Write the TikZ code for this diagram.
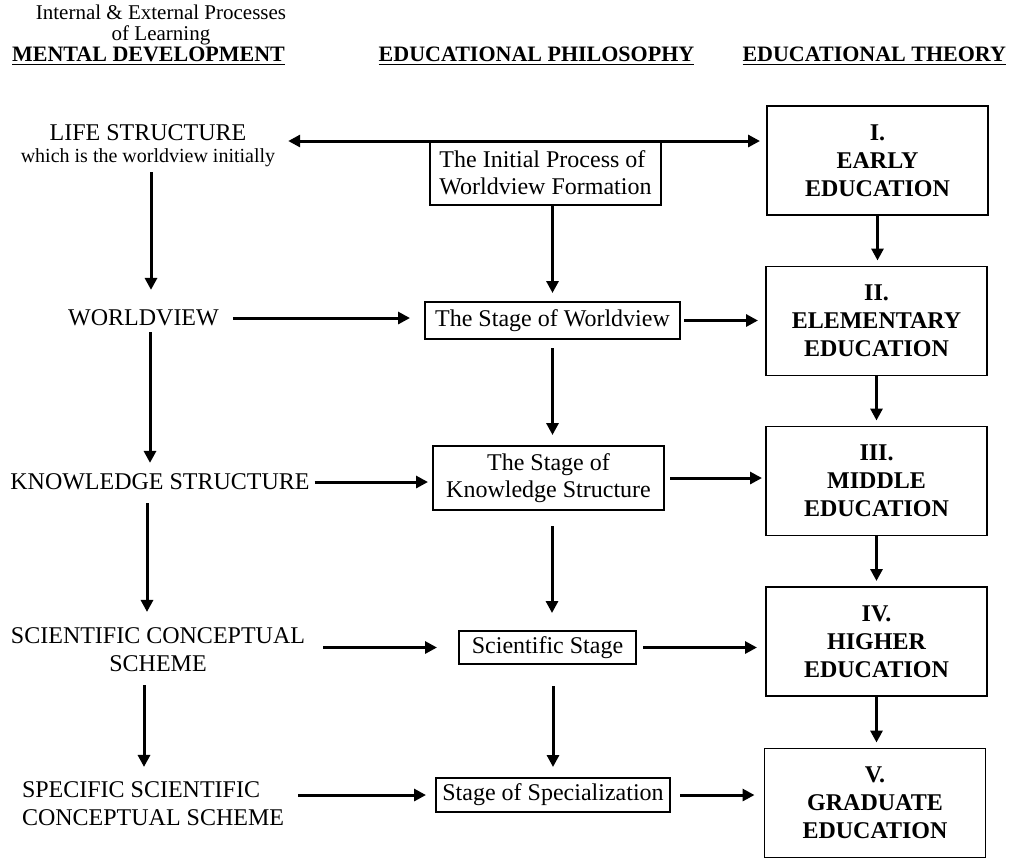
\documentclass[tikz,border=0pt]{standalone}
\usepackage{fontspec}
\setmainfont{Liberation Serif}
\usetikzlibrary{arrows.meta}

\begin{document}
\begin{tikzpicture}[x=0.5pt, y=-0.5pt, >={Triangle[length=6pt,width=6pt]}, line width=1.5pt,
  every node/.style={inner sep=0pt, outer sep=0pt, font=\fontsize{12}{14}\selectfont},
  hdr/.style={anchor=base, font=\fontsize{11}{12}\selectfont\bfseries},
  stagebox/.style={draw, line width=0.9pt, align=center, font=\fontsize{12}{13.5}\selectfont},
  edubox/.style={draw, line width=0.9pt, minimum width=110.5pt, minimum height=54.5pt,
    align=center, font=\fontsize{12}{14}\selectfont\bfseries}]
  \useasboundingbox (0,0) rectangle (1010,859);

  % 1. 顶部标题
  \node[align=center, font=\fontsize{10.5}{10.5}\selectfont] (proc) at (161,25) {Internal \& External Processes\\of Learning};
  \node[hdr] (hmental) at (148.5,61.5) {\underline{MENTAL DEVELOPMENT}};
  \node[hdr] (hphil) at (536.5,61.5) {\underline{EDUCATIONAL PHILOSOPHY}};
  \node[hdr, anchor=base east] (htheory) at (1006,61.5) {\underline{EDUCATIONAL THEORY}};

  % 2. 左列 (心智发展)
  \node[align=center] (life) at (148,146) {LIFE STRUCTURE\\[-3pt]{\fontsize{10}{12}\selectfont which is the worldview initially}};
  \node (wv) at (143.5,318) {WORLDVIEW};
  \node (know) at (160,482) {KNOWLEDGE STRUCTURE};
  \node[align=center] (sci) at (158,650) {SCIENTIFIC CONCEPTUAL\\SCHEME};
  \node[align=left, anchor=west] (spec) at (22,804) {SPECIFIC SCIENTIFIC\\CONCEPTUAL SCHEME};

  % 3. 中列 (教育哲学) 方框
  \node[stagebox, align=left, minimum width=115.5pt, minimum height=32pt] (init) at (545.5,173) {The Initial Process of\\Worldview Formation};
  \node[stagebox, minimum width=127.5pt, minimum height=18.5pt] (sworld) at (552.5,320.5) {The Stage of Worldview};
  \node[stagebox, minimum width=115.5pt, minimum height=32pt] (sknow) at (548.5,478) {The Stage of\\Knowledge Structure};
  \node[stagebox, minimum width=88.5pt, minimum height=16.5pt] (ssci) at (547.5,647.5) {Scientific Stage};
  \node[stagebox, minimum width=117pt, minimum height=17pt] (sspec) at (553,795) {Stage of Specialization};

  % 4. 右列 (教育理论) 方框
  \node[edubox] (e1) at (877.5,160.5) {I.\\EARLY\\EDUCATION};
  \node[edubox] (e2) at (876.5,321) {II.\\ELEMENTARY\\EDUCATION};
  \node[edubox] (e3) at (876.5,481) {III.\\MIDDLE\\EDUCATION};
  \node[edubox] (e4) at (876.5,641.5) {IV.\\HIGHER\\EDUCATION};
  \node[edubox] (e5) at (875,803) {V.\\GRADUATE\\EDUCATION};

  % 5. 左列纵向箭头
  \draw[->, shorten <=2.5pt, shorten >=10pt] ([xshift=1.5pt]life.south) -- ([xshift=1.5pt]life.south |- wv.north);
  \draw[->, shorten <=3pt, shorten >=5.5pt] ([xshift=3.25pt]wv.south) -- ([xshift=3.25pt]wv.south |- know.north);
  \draw[->, shorten <=6.5pt, shorten >=8pt] ([xshift=-6.5pt]know.south) -- ([xshift=-6.5pt]know.south |- sci.north);
  \draw[->, shorten <=6.5pt, shorten >=7.5pt] ([xshift=-7pt]sci.south) -- ([xshift=-7pt]sci.south |- spec.north);

  % 6. 横向箭头
  \draw[<->, shorten <=6.5pt, shorten >=3.5pt] (life.east |- init.north) -- (e1.west |- init.north);
  \draw[->, shorten <=7pt, shorten >=7.5pt] (wv.east) -- (wv.east -| sworld.west);
  \draw[->, shorten <=2.5pt, shorten >=2.5pt] (know.east) -- (know.east -| sknow.west);
  \draw[->, shorten <=9pt, shorten >=11pt] (sci.east |- ssci.west) -- (ssci.west);
  \draw[->, shorten <=7pt, shorten >=5pt] (spec.east |- sspec.west) -- (sspec.west);
  \draw[->, shorten <=2pt, shorten >=4pt] (sworld.east) -- (sworld.east -| e2.west);
  \draw[->, shorten <=3pt, shorten >=2pt] (sknow.east) -- (sknow.east -| e3.west);
  \draw[->, shorten <=3.5pt, shorten >=4.5pt] (ssci.east) -- (ssci.east -| e4.west);
  \draw[->, shorten <=5pt, shorten >=5pt] (sspec.east) -- (sspec.east -| e5.west);

  % 7. 中列纵向箭头
  \draw[->, shorten >=4.5pt] (sworld.north |- init.south) -- (sworld.north);
  \draw[->, shorten <=4.5pt, shorten >=5.5pt] (sworld.south) -- (sworld.south |- sknow.north);
  \draw[->, shorten <=8pt, shorten >=9pt] ([xshift=1.75pt]sknow.south) -- ([xshift=1.75pt]sknow.south |- ssci.north);
  \draw[->, shorten <=11pt, shorten >=5.5pt] (sspec.north |- ssci.south) -- (sspec.north);

  % 8. 右列纵向箭头
  \foreach \a/\b in {e1/e2, e2/e3, e3/e4, e4/e5}
    \draw[->, shorten >=3pt] (\a.south) -- (\a.south |- \b.north);
\end{tikzpicture}
\end{document}
